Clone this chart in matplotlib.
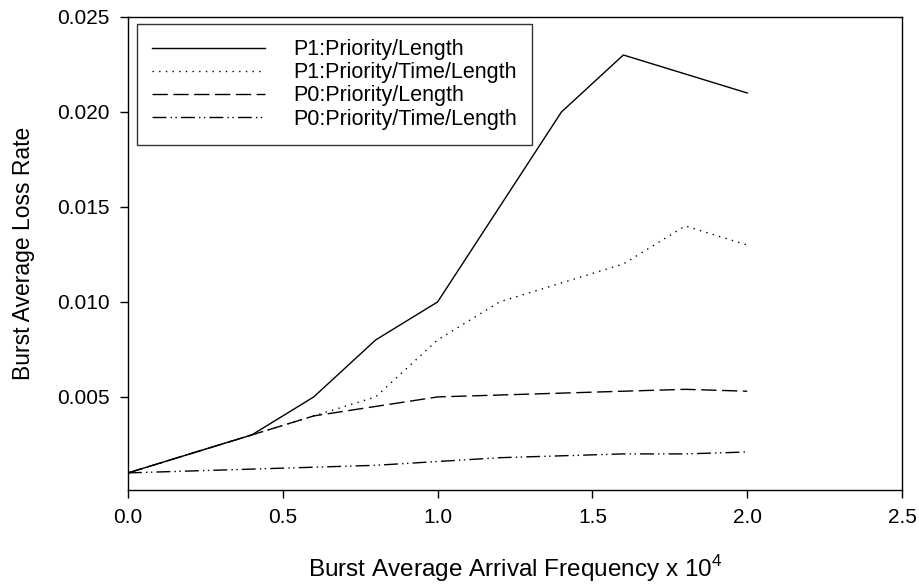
import matplotlib
matplotlib.use("Agg")
import matplotlib.pyplot as plt

plt.rcParams['font.family'] = ['Liberation Sans', 'DejaVu Sans']
plt.rcParams['mathtext.fontset'] = 'custom'
plt.rcParams['mathtext.rm'] = 'Liberation Sans'

x = [0.0, 0.2, 0.4, 0.6, 0.8, 1.0, 1.2, 1.4, 1.6, 1.8, 2.0]
p1_len = [0.001, 0.002, 0.003, 0.005, 0.008, 0.010, 0.015, 0.020, 0.023, 0.022, 0.021]
p1_time_len = [0.001, 0.002, 0.003, 0.004, 0.005, 0.008, 0.010, 0.011, 0.012, 0.014, 0.013]
p0_len = [0.001, 0.002, 0.003, 0.004, 0.0045, 0.005, 0.0051, 0.0052, 0.0053, 0.0054, 0.0053]
p0_time_len = [0.001, 0.0011, 0.0012, 0.0013, 0.0014, 0.0016, 0.0018, 0.0019, 0.002, 0.002, 0.0021]
labels = ["P1:Priority/Length", "P1:Priority/Time/Length",
          "P0:Priority/Length", "P0:Priority/Time/Length"]
xticks = [0.0, 0.5, 1.0, 1.5, 2.0, 2.5]
yticks = [0.005, 0.010, 0.015, 0.020, 0.025]

fig = plt.figure(figsize=(9.2, 5.85), dpi=100)
ax = fig.add_axes([128/920, 1 - 490/585, (902-128)/920, (490-17)/585])

lw = 1.0
ax.plot(x, p1_len, color='black', lw=lw, linestyle='-', label=labels[0])
ax.plot(x, p1_time_len, color='black', lw=lw, linestyle=(0, (1, 3.8)), label=labels[1])
ax.plot(x, p0_len, color='black', lw=lw, linestyle=(0, (11, 4)), label=labels[2])
ax.plot(x, p0_time_len, color='black', lw=lw, linestyle=(0, (10, 3, 1, 2.5, 1, 3)), label=labels[3])

ax.set_xlim(0, 2.5)
ax.set_ylim(0.0001, 0.025)
ax.set_xticks(xticks)
ax.set_xticklabels([f"{v:.1f}" for v in xticks])
ax.set_yticks(yticks)
ax.set_yticklabels([f"{v:.3f}" for v in yticks])
ax.tick_params(direction='out', length=6, width=1, labelsize=15, top=False, right=False, pad=7)
for s in ax.spines.values():
    s.set_linewidth(1.0)

ax.set_xlabel("Burst Average Arrival Frequency x 10$^{\\mathregular{4}}$", fontsize=17.5, labelpad=19)
ax.set_ylabel("Burst Average Loss Rate", fontsize=16.5, labelpad=16)

leg = ax.legend(loc='upper left', bbox_to_anchor=(9/774, 1 - 7/473), fontsize=15.5,
                frameon=True, fancybox=False, edgecolor='black', handlelength=5.25,
                handletextpad=1.3, borderpad=0.7, labelspacing=0.1, borderaxespad=0)
leg.get_frame().set_linewidth(1.0)

fig.savefig("out.png", dpi=100)
